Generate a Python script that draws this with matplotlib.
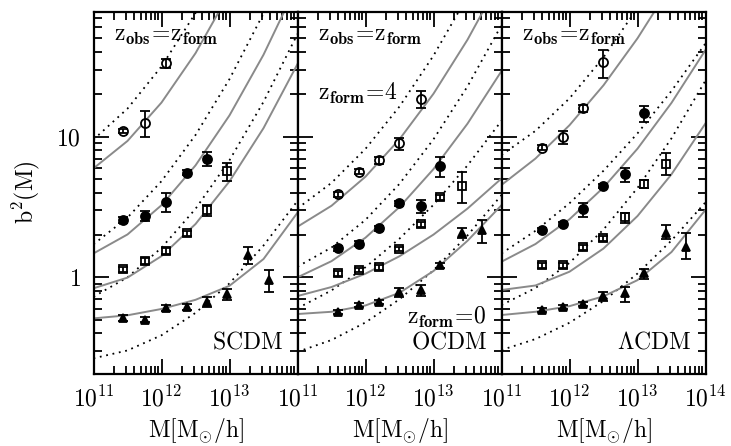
import numpy as np
import matplotlib.pyplot as plt
from matplotlib.ticker import LogLocator, NullFormatter, FixedLocator, FixedFormatter

plt.rcParams['mathtext.fontset'] = 'cm'
plt.rcParams['font.family'] = ['DejaVu Serif']

# mass grid for the model curves, log10(M / [Msun/h])
lgM_curve = [11.0, 11.5, 12.0, 12.5, 13.0, 13.5, 14.0]

# model curves, log10 b^2 (solid: gray, dotted: black), from z_form=4 down to z_form=0
scdm_solid = [
    [0.775, 0.970, 1.243, 1.594, 2.023, 2.53, 3.10],
    [0.170, 0.305, 0.513, 0.796, 1.152, 1.583, 2.087],
    [-0.078, -0.002, 0.151, 0.379, 0.683, 1.061, 1.517],
    [-0.292, -0.270, -0.225, -0.160, -0.060, 0.130, 0.460],
]
scdm_dotted = [
    [0.980, 1.200, 1.500, 1.880, 2.330, 2.850, 3.400],
    [0.235, 0.425, 0.684, 1.012, 1.410, 1.877, 2.400],
    [-0.138, 0.000, 0.210, 0.487, 0.833, 1.248, 1.731],
    [-0.576, -0.520, -0.412, -0.253, -0.043, 0.226, 0.544],
]
ocdm_solid = [
    [0.360, 0.509, 0.716, 0.982, 1.306, 1.690, 2.132],
    [0.000, 0.115, 0.282, 0.500, 0.770, 1.093, 1.467],
    [-0.133, -0.069, 0.026, 0.150, 0.304, 0.489, 0.703],
    [-0.261, -0.245, -0.200, -0.110, 0.045, 0.260, 0.513],
]
ocdm_dotted = [
    [0.490, 0.672, 0.914, 1.215, 1.577, 1.999, 2.480],
    [0.076, 0.212, 0.409, 0.665, 0.982, 1.358, 1.794],
    [-0.220, -0.093, 0.072, 0.275, 0.516, 0.796, 1.113],
    [-0.530, -0.446, -0.321, -0.156, 0.050, 0.298, 0.585],
]
lcdm_solid = [
    [0.657, 0.845, 1.082, 1.366, 1.700, 2.082, 2.510],
    [0.111, 0.237, 0.413, 0.639, 0.915, 1.241, 1.617],
    [-0.090, -0.058, 0.040, 0.205, 0.436, 0.733, 1.095],
    [-0.268, -0.245, -0.205, -0.135, -0.020, 0.180, 0.480],
]
lcdm_dotted = [
    [0.870, 1.042, 1.273, 1.565, 1.916, 2.330, 2.800],
    [0.170, 0.331, 0.527, 0.758, 1.024, 1.326, 1.664],
    [-0.197, -0.076, 0.103, 0.340, 0.636, 0.989, 1.400],
    [-0.517, -0.439, -0.323, -0.168, 0.027, 0.262, 0.534],
]

# halo masses of the measured points [Msun/h]
scdm_mass = [2.75e11, 5.75e11, 1.17e12, 2.34e12, 4.68e12, 9.1e12, 1.86e13, 3.8e13]
ocdm_mass = [3.9e11, 7.9e11, 1.58e12, 3.16e12, 6.5e12, 1.26e13, 2.6e13, 5.2e13]
lcdm_mass = [3.9e11, 7.9e11, 1.58e12, 3.16e12, 6.5e12, 1.26e13, 2.6e13, 5.2e13]

# measured b^2 with lower / upper error bar ends
scdm_z4 = [11.0, 12.6, 33.3]
scdm_z4_lo = [10.6, 10.0, 30.9]
scdm_z4_hi = [11.4, 15.2, 35.9]
scdm_z2 = [2.56, 2.74, 3.41, 5.55, 7.0]
scdm_z2_lo = [2.45, 2.53, 2.93, 5.3, 6.2]
scdm_z2_hi = [2.67, 2.98, 3.96, 5.8, 7.8]
scdm_z1 = [1.14, 1.31, 1.54, 2.05, 3.01, 5.73]
scdm_z1_lo = [1.09, 1.25, 1.47, 1.96, 2.73, 4.84]
scdm_z1_hi = [1.19, 1.37, 1.61, 2.14, 3.27, 6.46]
scdm_z0 = [0.516, 0.50, 0.61, 0.62, 0.67, 0.76, 1.44, 0.96]
scdm_z0_lo = [0.49, 0.48, 0.58, 0.59, 0.62, 0.69, 1.24, 0.79]
scdm_z0_hi = [0.54, 0.52, 0.64, 0.65, 0.73, 0.83, 1.63, 1.13]

ocdm_z4 = [3.91, 5.64, 6.82, 8.96, 18.7]
ocdm_z4_lo = [3.75, 5.4, 6.4, 8.04, 16.1]
ocdm_z4_hi = [4.07, 5.9, 7.2, 9.84, 21.1]
ocdm_z2 = [1.61, 1.73, 2.23, 3.36, 3.23, 6.22]
ocdm_z2_lo = [1.55, 1.66, 2.14, 3.22, 2.88, 5.2]
ocdm_z2_hi = [1.67, 1.80, 2.32, 3.50, 3.55, 7.21]
ocdm_z1 = [1.07, 1.13, 1.18, 1.59, 2.38, 3.71, 4.46]
ocdm_z1_lo = [1.03, 1.09, 1.13, 1.53, 2.28, 3.56, 3.36]
ocdm_z1_hi = [1.11, 1.17, 1.23, 1.65, 2.48, 3.86, 5.57]
ocdm_z0 = [0.57, 0.64, 0.67, 0.78, 0.81, 1.22, 2.08, 2.17]
ocdm_z0_lo = [0.55, 0.62, 0.65, 0.72, 0.74, 1.17, 1.89, 1.76]
ocdm_z0_hi = [0.59, 0.66, 0.69, 0.835, 0.88, 1.27, 2.23, 2.55]

lcdm_z4 = [8.36, 10.0, 15.9, 33.8]
lcdm_z4_lo = [8.0, 8.95, 15.0, 26.0]
lcdm_z4_hi = [8.7, 11.0, 16.9, 41.3]
lcdm_z2 = [2.17, 2.39, 3.04, 4.46, 5.43, 14.7]
lcdm_z2_lo = [2.09, 2.30, 2.70, 4.30, 4.79, 12.8]
lcdm_z2_hi = [2.25, 2.48, 3.36, 4.62, 5.96, 16.6]
lcdm_z1 = [1.22, 1.22, 1.63, 1.89, 2.67, 4.6, 6.36]
lcdm_z1_lo = [1.17, 1.17, 1.57, 1.82, 2.42, 4.3, 5.33]
lcdm_z1_hi = [1.27, 1.27, 1.69, 1.96, 2.88, 4.9, 7.6]
lcdm_z0 = [0.59, 0.62, 0.65, 0.74, 0.77, 1.07, 2.05, 1.65]
lcdm_z0_lo = [0.57, 0.60, 0.63, 0.68, 0.67, 0.97, 1.86, 1.36]
lcdm_z0_hi = [0.61, 0.64, 0.67, 0.79, 0.86, 1.15, 2.35, 2.06]

model_names = [r'$\mathrm{SCDM}$', r'$\mathrm{OCDM}$', r'$\Lambda\mathrm{CDM}$']
x_ticks = [1e11, 1e12, 1e13, 1e14]
x_labels = [r'$\mathrm{10^{11}}$', r'$\mathrm{10^{12}}$', r'$\mathrm{10^{13}}$', r'$\mathrm{10^{14}}$']

panels = [
    (scdm_solid, scdm_dotted, scdm_mass,
     [(scdm_z4, scdm_z4_lo, scdm_z4_hi), (scdm_z2, scdm_z2_lo, scdm_z2_hi),
      (scdm_z1, scdm_z1_lo, scdm_z1_hi), (scdm_z0, scdm_z0_lo, scdm_z0_hi)]),
    (ocdm_solid, ocdm_dotted, ocdm_mass,
     [(ocdm_z4, ocdm_z4_lo, ocdm_z4_hi), (ocdm_z2, ocdm_z2_lo, ocdm_z2_hi),
      (ocdm_z1, ocdm_z1_lo, ocdm_z1_hi), (ocdm_z0, ocdm_z0_lo, ocdm_z0_hi)]),
    (lcdm_solid, lcdm_dotted, lcdm_mass,
     [(lcdm_z4, lcdm_z4_lo, lcdm_z4_hi), (lcdm_z2, lcdm_z2_lo, lcdm_z2_hi),
      (lcdm_z1, lcdm_z1_lo, lcdm_z1_hi), (lcdm_z0, lcdm_z0_lo, lcdm_z0_hi)]),
]

# marker style per z_form: open circle, filled circle, open square, filled triangle
styles = [
    dict(marker='o', ms=6.5, mfc='white'),
    dict(marker='o', ms=6.5, mfc='black'),
    dict(marker='s', ms=5.5, mfc='white'),
    dict(marker='^', ms=6.0, mfc='black'),
]

fig = plt.figure(figsize=(7.31, 4.46), dpi=100)
left, width = 93.5 / 731, 204 / 731
bottom, height = 72.5 / 446, 361.8 / 446
mgrid = 10 ** np.array(lgM_curve)

for i, (solid, dotted, mass, series) in enumerate(panels):
    ax = fig.add_axes([left + i * width, bottom, width, height])
    ax.set_xscale('log')
    ax.set_yscale('log')

    for lg in dotted:
        ax.plot(mgrid, 10 ** np.array(lg), color='black', lw=1.3,
                linestyle=(0, (1, 2.6)), zorder=2)
    for lg in solid:
        ax.plot(mgrid, 10 ** np.array(lg), color='#8a8a8a', lw=1.4, zorder=2)

    for (val, lo, hi), st in zip(series, styles):
        m = np.array(mass[:len(val)])
        v = np.array(val)
        yerr = [v - np.array(lo), np.array(hi) - v]
        ax.plot(m, v, linestyle='none', marker=st['marker'], ms=st['ms'],
                mfc=st['mfc'], mec='black', mew=1.3, zorder=4)
        # error bars drawn over the symbols, caps at the symbol edges
        ax.errorbar(m, v, yerr=yerr, fmt='none', ecolor='black',
                    elinewidth=1.3, capsize=3.3, capthick=1.3, zorder=5)

    ax.set_xlim(1e11, 1e14)
    ax.set_ylim(0.207, 77.5)

    for sp in ax.spines.values():
        sp.set_linewidth(1.6)

    ax.xaxis.set_major_locator(FixedLocator(x_ticks))
    labels = x_labels if i == 2 else x_labels[:3] + ['']
    ax.xaxis.set_major_formatter(FixedFormatter(labels))
    ax.xaxis.set_minor_locator(LogLocator(base=10, subs=np.arange(2, 10), numticks=20))
    ax.xaxis.set_minor_formatter(NullFormatter())
    ax.yaxis.set_major_locator(FixedLocator([1, 10]))
    ax.yaxis.set_minor_locator(LogLocator(base=10, subs=np.arange(2, 10), numticks=20))
    ax.yaxis.set_minor_formatter(NullFormatter())
    if i == 0:
        ax.yaxis.set_major_formatter(FixedFormatter([r'$\mathrm{1}$', r'$\mathrm{10}$']))
    else:
        ax.yaxis.set_major_formatter(NullFormatter())

    ax.tick_params(which='both', direction='in', top=True, right=True, width=1.3)
    ax.tick_params(which='major', length=11, labelsize=17, pad=9)
    ax.tick_params(which='minor', length=5.5)

    ax.set_xlabel(r'$\mathrm{M[M_{\odot}/h]}$', fontsize=17, labelpad=3)
    if i == 0:
        ax.set_ylabel(r'$\mathrm{b^2(M)}$', fontsize=17, labelpad=10)

    ax.text(0.1, 0.965, r'$\mathrm{z_{\mathbf{obs}}\!=\!z_{\mathbf{form}}}$',
            transform=ax.transAxes, ha='left', va='top', fontsize=17)
    ax.text(0.93, 0.055, model_names[i], transform=ax.transAxes,
            ha='right', va='bottom', fontsize=17)

    if i == 1:
        ax.text(0.1, 0.81, r'$\mathrm{z_{\mathbf{form}}\!=\!4}$', transform=ax.transAxes,
                ha='left', va='top', fontsize=17)
        ax.text(0.93, 0.19, r'$\mathrm{z_{\mathbf{form}}\!=\!0}$', transform=ax.transAxes,
                ha='right', va='top', fontsize=17)

fig.savefig('out.png', dpi=100)
